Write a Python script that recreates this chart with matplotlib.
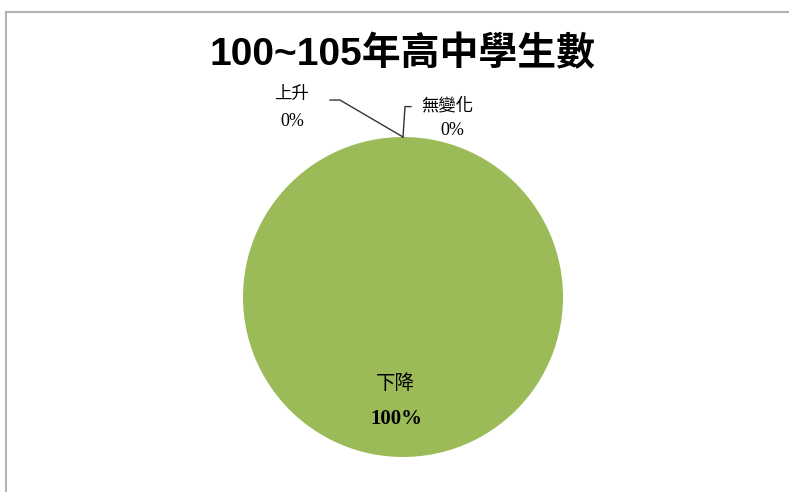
import matplotlib.pyplot as plt
import numpy as np
from matplotlib.patches import Rectangle

plt.rcParams['font.family'] = ['Liberation Sans', 'Noto Sans CJK TC', 'DejaVu Sans']

# Datos
categorias = ['上升', '無變化', '下降']
valores = [0, 0, 100]
colores = ['#4F81BD', '#C0504D', '#9BBB59']
titulo = '100~105年高中學生數'

total = sum(valores)
porcentajes = [v / total * 100 for v in valores]

fig = plt.figure(figsize=(7.89, 4.92), dpi=100)

# Marco gris del área del gráfico
fig.patches.append(Rectangle((6 / 789, -0.1), 1.1, 1 - 12 / 492 + 0.1, transform=fig.transFigure,
                             fill=False, edgecolor='#B3B3B3', linewidth=1.5))

ax = fig.add_axes([(403 - 160) / 789, (492 - 297 - 160) / 492, 320 / 789, 320 / 492])
ax.pie(valores, colors=colores, startangle=90, counterclock=False, radius=1,
       wedgeprops={'linewidth': 0})
ax.set_xlim(-1, 1)
ax.set_ylim(-1, 1)
ax.set_aspect('equal')
ax.axis('off')

# Ángulo medio de cada sector (sentido horario desde arriba)
acum = np.cumsum([0] + porcentajes)
medios = [np.deg2rad(90 - (acum[i] + acum[i + 1]) / 2 * 3.6) for i in range(len(valores))]
ancla = [(np.cos(a), np.sin(a)) for a in medios]

# Etiquetas de los sectores pequeños con líneas guía
ax.text(-0.70, 1.27, categorias[0], ha='center', va='center', fontsize=12.5, clip_on=False)
ax.text(-0.69, 1.10, f'{porcentajes[0]:.0f}%', ha='center', va='center', fontsize=13,
        family='Liberation Serif', clip_on=False)
ax.plot([-0.456, -0.394, ancla[0][0]], [1.231, 1.231, ancla[0][1]], color='#333333', lw=1, clip_on=False)

ax.text(0.28, 1.20, categorias[1], ha='center', va='center', fontsize=12.5, clip_on=False)
ax.text(0.31, 1.04, f'{porcentajes[1]:.0f}%', ha='center', va='center', fontsize=13,
        family='Liberation Serif', clip_on=False)
ax.plot([0.05, 0.0125, ancla[1][0]], [1.19, 1.19, ancla[1][1]], color='#333333', lw=1, clip_on=False)

# Etiqueta del sector grande
ax.text(ancla[2][0] * 0.55 - 0.05, ancla[2][1] * 0.55 + 0.01, categorias[2], ha='center', va='center', fontsize=14)
ax.text(ancla[2][0] * 0.55 - 0.04, ancla[2][1] * 0.55 - 0.21, f'{porcentajes[2]:.0f}%', ha='center', va='center',
        fontsize=15, fontweight='bold', family='Liberation Serif')

fig.text(403 / 789, 1 - 55 / 492, titulo, ha='center', va='center', fontsize=28, fontweight='bold')

fig.savefig('out.png', dpi=100)
